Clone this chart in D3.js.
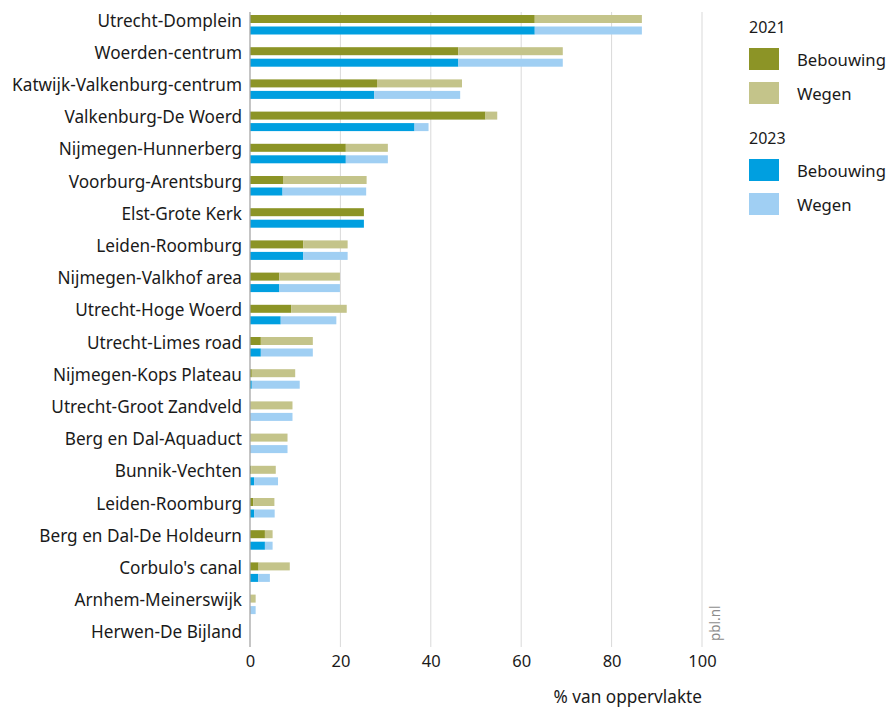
<!DOCTYPE html>
<html><head><meta charset="utf-8">
<script src="https://cdn.jsdelivr.net/npm/d3@7/dist/d3.min.js"></script>
<style>body{margin:0;background:#fff}svg{display:block;font-family:"Noto Sans",sans-serif}</style>
</head><body>
<svg id="c" width="887" height="708"></svg>
<script>
const categories = ["Utrecht-Domplein","Woerden-centrum","Katwijk-Valkenburg-centrum","Valkenburg-De Woerd","Nijmegen-Hunnerberg","Voorburg-Arentsburg","Elst-Grote Kerk","Leiden-Roomburg","Nijmegen-Valkhof area","Utrecht-Hoge Woerd","Utrecht-Limes road","Nijmegen-Kops Plateau","Utrecht-Groot Zandveld","Berg en Dal-Aquaduct","Bunnik-Vechten","Leiden-Roomburg","Berg en Dal-De Holdeurn","Corbulo's canal","Arnhem-Meinerswijk","Herwen-De Bijland"];
const bebouwing2021 = [63.0,46.1,28.1,52.1,21.2,7.3,25.2,11.8,6.5,9.1,2.4,0.4,0,0,0.3,0.7,3.3,1.9,0,0];
const wegen2021     = [23.7,23.1,18.8,2.6,9.3,18.5,0,9.8,13.4,12.3,11.5,9.6,9.4,8.3,5.4,4.7,1.7,6.9,1.25,0];
const bebouwing2023 = [63.0,46.1,27.5,36.4,21.2,7.2,25.2,11.8,6.5,6.8,2.4,0.4,0,0,0.9,0.96,3.3,1.8,0,0];
const wegen2023     = [23.7,23.1,19.0,3.1,9.3,18.5,0,9.8,13.4,12.3,11.5,10.6,9.4,8.3,5.3,4.5,1.7,2.6,1.25,0];
const xTicks = [0,20,40,60,80,100];
const years = ["2021","2023"];
const seriesNames = ["Bebouwing","Wegen"];
const colors = {"2021":["#8c9426","#c4c48a"],"2023":["#009fe0","#a0cff3"]};

const svg = d3.select("#c");
const x = d3.scaleLinear().domain([0,100]).range([250,702]);
const y = d3.scaleBand().domain(d3.range(categories.length)).range([7,651]).paddingInner(0);
const barH = 8;

// gridlines
svg.append("g").selectAll("line").data(xTicks.filter(d=>d>0)).join("line")
  .attr("x1",d=>x(d)).attr("x2",d=>x(d)).attr("y1",12).attr("y2",647)
  .attr("stroke","#d9d9d9").attr("stroke-width",1);

// bars
const rows = categories.map((c,i)=>({i,
  b21:bebouwing2021[i], w21:wegen2021[i], b23:bebouwing2023[i], w23:wegen2023[i]}));
const g = svg.append("g");
rows.forEach(r=>{
  const y0 = y(r.i);
  const specs = [
    {yy:y0+8, vals:[r.b21,r.w21], col:colors["2021"]},
    {yy:y0+19.5, vals:[r.b23,r.w23], col:colors["2023"]}
  ];
  specs.forEach(s=>{
    let acc=0;
    s.vals.forEach((v,k)=>{
      if(v>0){
        g.append("rect").attr("x",x(acc)).attr("y",s.yy).attr("width",x(acc+v)-x(acc)).attr("height",barH).attr("fill",s.col[k]);
      }
      acc+=v;
    });
  });
});

// axis line
svg.append("line").attr("x1",x(0)).attr("x2",x(0)).attr("y1",12).attr("y2",647).attr("stroke","#a6a6a6").attr("stroke-width",1.3);

// category labels
svg.append("g").selectAll("text").data(categories).join("text")
  .attr("x",242).attr("y",(d,i)=>y(i)+13).attr("text-anchor","end").attr("dominant-baseline","central")
  .attr("font-size",17.2).attr("fill","#1a1a1a").text(d=>d);

// x axis labels
const xAxis = d3.axisBottom(x).tickValues(xTicks).tickSize(0).tickPadding(0).tickFormat(d3.format("d"));
const ax = svg.append("g").attr("transform","translate(0,655)").call(xAxis);
ax.select(".domain").remove();
ax.selectAll("text").attr("font-size",16.5).attr("fill","#1a1a1a").attr("font-family","Noto Sans");

svg.append("text").attr("x",702).attr("y",703).attr("text-anchor","end").attr("font-size",17.2).attr("fill","#1a1a1a").text("% van oppervlakte");

// pbl.nl
svg.append("text").attr("transform","translate(720,641) rotate(-90)").attr("font-size",13.5).attr("fill","#8c8c8c").text("pbl.nl");

// legend
const lg = svg.append("g");
years.forEach((yr,j)=>{
  const base = j*111;
  lg.append("text").attr("x",749).attr("y",27+base).attr("dominant-baseline","central").attr("font-size",16).attr("fill","#1a1a1a").text(yr);
  seriesNames.forEach((s,k)=>{
    const yy = 48+base+k*34;
    lg.append("rect").attr("x",749).attr("y",yy).attr("width",30).attr("height",22).attr("fill",colors[yr][k]);
    lg.append("text").attr("x",797).attr("y",yy+11).attr("dominant-baseline","central").attr("font-size",16.7).attr("fill","#1a1a1a").text(s);
  });
});
</script>
</body></html>
